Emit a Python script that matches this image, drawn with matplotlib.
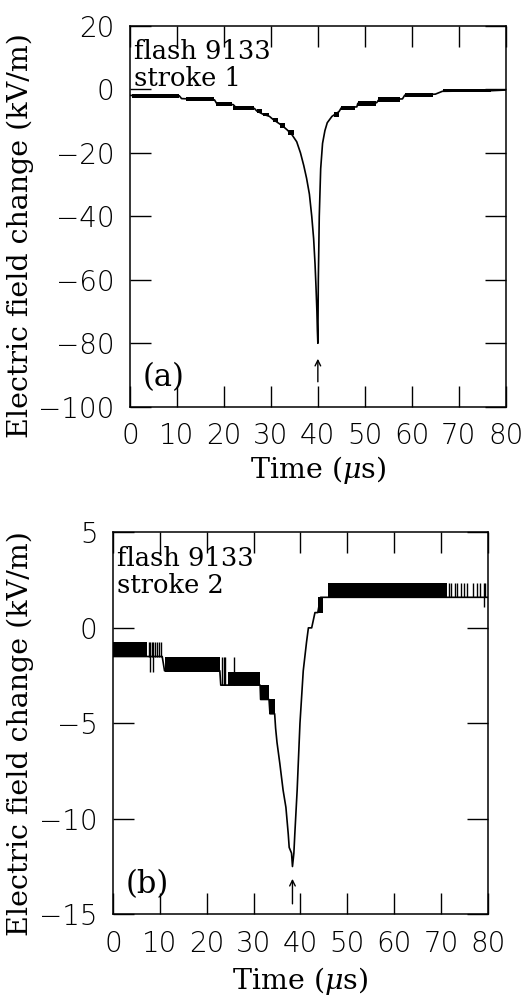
import matplotlib.pyplot as plt

# ---- stroke 1 (panel a) ----
t1 = [0, 10.5, 11, 18, 18.5, 22, 22.5, 26.5, 27, 28.3, 29.7, 30.5, 31.5, 32.5,
      33.5, 34.5, 35.5, 36.3, 37.0, 37.6, 38.2, 38.7, 39.1, 39.4, 39.6, 39.8,
      39.9, 40.0, 40.1, 40.3, 40.6, 41.0, 41.5, 42.0, 43.0, 44.5, 45.0, 48.3,
      48.5, 52.5, 53, 58, 58.5, 65, 66.5, 77, 80]
v1 = [-1.9, -2.0, -2.9, -3.3, -4.5, -4.8, -5.6, -6.0, -6.8, -7.8, -8.5, -9.5,
      -10.5, -11.5, -12.8, -14.3, -16.5, -20, -24, -28, -33, -40, -47, -55, -62,
      -70, -76, -80, -60, -40, -25, -17, -13, -10.5, -8.5, -7.0, -5.8, -5.5,
      -4.4, -4.2, -3.2, -3.0, -1.8, -1.5, -0.6, -0.4, -0.2]
# noisy (flickering) segments: start, end, low, high
b1_t0 = [0.5, 12, 18.3, 22, 27, 28.3, 30.4, 32, 33.6, 43.5, 45, 48.5, 52.8, 58.5, 66.6]
b1_t1 = [10.5, 18, 21.8, 26.5, 28.2, 29.7, 31.5, 33, 35, 44.5, 48, 52.3, 57.4, 64.5, 76.8]
b1_lo = [-2.6, -3.7, -5.3, -6.4, -7.4, -8.5, -10.2, -12.2, -14.5, -8.7, -6.5, -5.1, -3.9, -2.3, -0.9]
b1_hi = [-1.4, -2.5, -4.0, -5.2, -6.3, -7.3, -8.9, -10.6, -12.7, -7.0, -5.2, -3.8, -2.5, -1.1, 0.2]

# ---- stroke 2 (panel b) ----
t2 = [0, 10.5, 11, 22.8, 23, 31.4, 31.5, 33.3, 33.5, 34.5, 34.7, 35.0, 35.6,
      36.3, 36.9, 37.4, 37.6, 38.1, 38.3, 38.6, 38.8, 39.3, 39.9, 40.6, 41.3,
      41.7, 42.4, 43.1, 43.7, 44.3, 44.8, 80]
v2 = [-1.5, -1.5, -2.25, -2.25, -3.0, -3.0, -3.75, -3.75, -4.5, -4.5, -5.25,
      -6.0, -7.1, -8.5, -9.4, -10.8, -11.5, -11.8, -12.5, -11.8, -10.8, -8.5,
      -5.0, -2.25, -0.75, 0.0, 0.0, 0.8, 0.8, 1.6, 1.6, 1.6]
b2_t0 = [0, 11.1, 24.5, 31.4, 33.3, 43.7, 45.9]
b2_t1 = [7.2, 22.8, 31.4, 33.3, 34.5, 44.8, 71.2]
b2_lo = [-1.53, -2.3, -3.0, -3.75, -4.5, 0.8, 1.6]
b2_hi = [-0.74, -1.53, -2.3, -3.0, -3.75, 1.6, 2.33]
# isolated flicker lines: time, low, high
s2_t = [7.6, 7.9, 8.3, 8.5, 9.0, 9.4, 9.8, 10.3, 23.2, 23.6, 24.0, 25.8,
        71.6, 72.2, 72.9, 73.5, 74.2, 75.0, 75.6, 76.8, 77.6, 78.3, 79.1, 79.4]
s2_lo = [-1.53, -2.3, -1.53, -2.3, -1.53, -1.53, -1.53, -1.53, -3.0, -3.0, -3.0, -3.0,
         1.6, 1.6, 1.6, 1.6, 1.6, 1.6, 1.6, 1.6, 1.6, 1.6, 1.09, 1.6]
s2_hi = [-0.74, -0.74, -0.74, -0.74, -0.74, -0.74, -0.74, -0.74, -1.53, -1.53, -1.53, -1.53,
         2.33, 2.33, 2.33, 2.33, 2.33, 2.33, 2.33, 2.33, 2.33, 2.33, 2.33, 2.33]

plt.rcParams['mathtext.fontset'] = 'dejavuserif'
tick_font = dict(family='DejaVu Sans', weight='light', size=20)
lab_font = dict(family='DejaVu Serif', size=20.5)

fig = plt.figure(figsize=(5.28, 9.97), dpi=100)
ax1 = fig.add_axes([0.246, 0.592, 0.712, 0.382])
ax2 = fig.add_axes([0.214, 0.083, 0.710, 0.383])


def style(ax, ylim, yticks):
    ax.set_xlim(0, 80)
    ax.set_ylim(*ylim)
    ax.set_xticks(range(0, 81, 10))
    ax.set_yticks(yticks)
    ax.tick_params(direction='in', length=15, width=1, top=True, right=True, pad=11)
    for lbl in ax.get_xticklabels() + ax.get_yticklabels():
        lbl.set_fontfamily(tick_font['family'])
        lbl.set_fontweight(tick_font['weight'])
        lbl.set_fontsize(tick_font['size'])
    for sp in ax.spines.values():
        sp.set_linewidth(1.1)
    ax.set_xlabel(r'Time ($\mu$s)', **lab_font)
    ax.set_ylabel('Electric field change (kV/m)', **lab_font)


# panel a
ax1.plot(t1, v1, color='black', lw=1.2)
for a, b, lo, hi in zip(b1_t0, b1_t1, b1_lo, b1_hi):
    ax1.fill_between([a, b], lo, hi, color='black', lw=0)
style(ax1, (-100, 20), range(-100, 21, 20))
ax1.text(0.012, 0.965, 'flash 9133\nstroke 1', transform=ax1.transAxes,
         family='DejaVu Serif', fontsize=18.5, va='top', linespacing=1.1)
ax1.text(0.035, 0.055, '(a)', transform=ax1.transAxes, family='DejaVu Serif', fontsize=22)
ax1.annotate('', xy=(40, -84), xytext=(40, -93),
             arrowprops=dict(arrowstyle='->', color='black', lw=1))
ax1.xaxis.set_label_coords(0.5, -0.125)
ax1.yaxis.set_label_coords(-0.255, 0.45)

# panel b
ax2.plot(t2, v2, color='black', lw=1.2)
for a, b, lo, hi in zip(b2_t0, b2_t1, b2_lo, b2_hi):
    ax2.fill_between([a, b], lo, hi, color='black', lw=0)
ax2.vlines(s2_t, s2_lo, s2_hi, color='black', lw=1)
style(ax2, (-15, 5), range(-15, 6, 5))
ax2.text(0.012, 0.965, 'flash 9133\nstroke 2', transform=ax2.transAxes,
         family='DejaVu Serif', fontsize=18.5, va='top', linespacing=1.1)
ax2.text(0.035, 0.055, '(b)', transform=ax2.transAxes, family='DejaVu Serif', fontsize=22)
ax2.annotate('', xy=(38.3, -13.0), xytext=(38.3, -14.6),
             arrowprops=dict(arrowstyle='->', color='black', lw=1))
ax2.xaxis.set_label_coords(0.5, -0.133)
ax2.yaxis.set_label_coords(-0.21, 0.474)

fig.savefig('out.png', dpi=100)
